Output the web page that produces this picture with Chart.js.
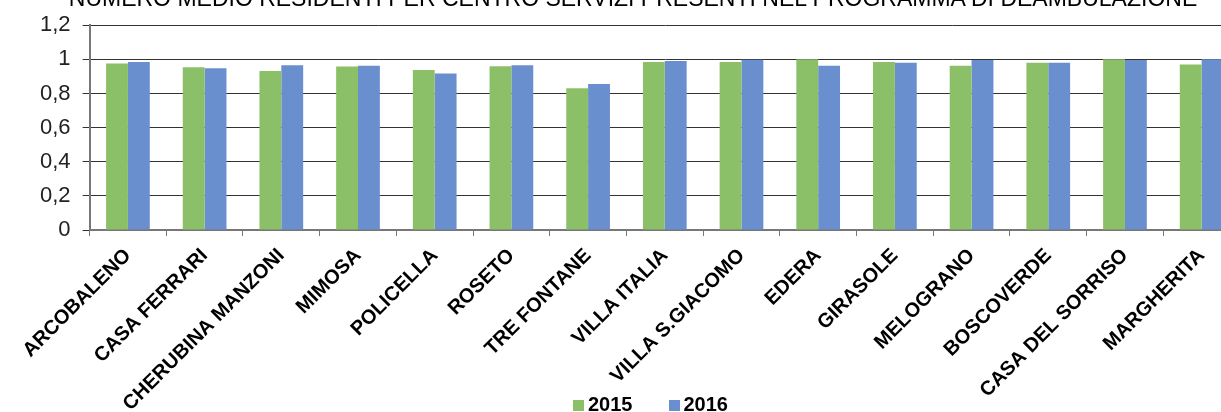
<!DOCTYPE html>
<html>
<head>
<meta charset="utf-8">
<script src="https://cdn.jsdelivr.net/npm/chart.js@4"></script>
<style>
  html, body { margin: 0; padding: 0; background: #fff; overflow: hidden; }
  body { width: 1221px; height: 412px; position: relative; font-family: "Liberation Sans", Arial, sans-serif; }
  #grafico { position: absolute; left: 0; top: 0; }
  #titolo { position: absolute; top: -13px; left: 0; width: 1266px; text-align: center;
            font-size: 23px; line-height: 23px; color: #000; white-space: nowrap; }
  #legenda { position: absolute; top: 392px; left: 573px; font-size: 20px; font-weight: bold;
             line-height: 24px; color: #000; white-space: nowrap; }
  #legenda span.box { display: inline-block; width: 11px; height: 11px; margin-right: 4px; }
  #legenda span.voce { margin-right: 36px; }
</style>
</head>
<body>
<canvas id="grafico" width="1298" height="412"></canvas>
<div id="titolo"></div>
<div id="legenda"></div>
<script>
// centri servizi
const centri = ["ARCOBALENO", "CASA FERRARI", "CHERUBINA MANZONI", "MIMOSA", "POLICELLA",
  "ROSETO", "TRE FONTANE", "VILLA ITALIA", "VILLA S.GIACOMO", "EDERA",
  "GIRASOLE", "MELOGRANO", "BOSCOVERDE", "CASA DEL SORRISO", "MARGHERITA"];

const valori2015 = [0.976, 0.954, 0.931, 0.958, 0.937, 0.960, 0.831, 0.984, 0.984, 1.0,
  0.984, 0.962, 0.980, 1.0, 0.970];
const valori2016 = [0.984, 0.948, 0.966, 0.962, 0.917, 0.966, 0.855, 0.990, 0.997, 0.962,
  0.980, 0.996, 0.980, 0.996, 1.0];

const anni = ["2015", "2016"];
const colori = ["#8cc068", "#6a8fcf"];

const titolo = "NUMERO MEDIO RESIDENTI PER CENTRO SERVIZI PRESENTI NEL PROGRAMMA DI DEAMBULAZIONE";
document.getElementById("titolo").textContent = titolo;

// legenda in html
const legenda = document.getElementById("legenda");
anni.forEach((anno, i) => {
  const voce = document.createElement("span");
  voce.className = "voce";
  const box = document.createElement("span");
  box.className = "box";
  box.style.background = colori[i];
  voce.appendChild(box);
  voce.appendChild(document.createTextNode(anno));
  legenda.appendChild(voce);
});

const datas = {
  labels: centri,
  datasets: [
    {
      label: anni[0],
      data: valori2015,
      backgroundColor: colori[0],
      barPercentage: 1,
      categoryPercentage: 0.57
    },
    {
      label: anni[1],
      data: valori2016,
      backgroundColor: colori[1],
      barPercentage: 1,
      categoryPercentage: 0.57
    }
  ]
};

const config = {
  type: "bar",
  data: datas,
  options: {
    responsive: false,
    animation: false,
    layout: { padding: { left: 28, right: 58, top: 25, bottom: 0 } },
    plugins: {
      legend: { display: false },
      tooltip: { enabled: false }
    },
    scales: {
      x: {
        grid: { display: true, drawOnChartArea: false, drawTicks: true, tickLength: 6, color: "#777", lineWidth: 1 },
        border: { color: "#777", width: 2 },
        ticks: {
          autoSkip: false,
          minRotation: 45,
          maxRotation: 45,
          padding: 8,
          color: "#000",
          font: { family: "Liberation Sans", size: 20, weight: "bold" }
        },
        afterFit: function(scale) {
          scale.height = 182;
          scale.paddingLeft = 0;
          scale.paddingRight = 0;
        }
      },
      y: {
        min: 0,
        max: 1.2,
        ticks: {
          stepSize: 0.2,
          padding: 12,
          color: "#222",
          font: { family: "Liberation Sans", size: 22 },
          callback: function(v) { return String(Number(v.toFixed(1))).replace(".", ","); }
        },
        grid: { color: "#333", lineWidth: 1, tickLength: 7 },
        border: { color: "#777", width: 2 }
      }
    }
  }
};

const myChart = new Chart(document.getElementById("grafico"), config);
</script>
</body>
</html>
